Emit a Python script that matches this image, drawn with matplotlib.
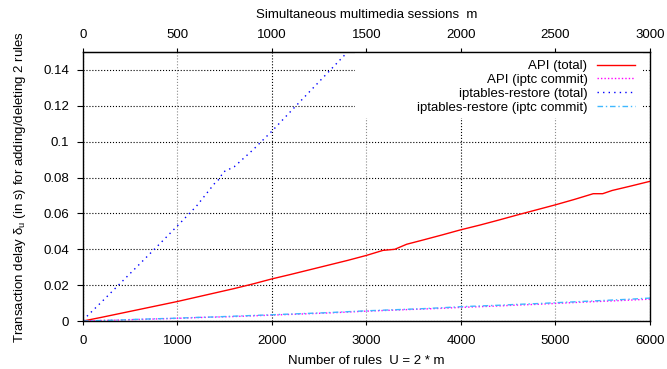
import matplotlib
matplotlib.use("Agg")
import matplotlib.pyplot as plt
import matplotlib.patches as mpatches
import numpy as np

plt.rcParams["font.family"] = ["Liberation Sans", "DejaVu Sans"]
plt.rcParams["font.size"] = 9.5
plt.rcParams["mathtext.default"] = "regular"

# number of rules U
rules = [0, 200, 400, 600, 800, 1000, 1200, 1400, 1600, 1800, 2000, 2200, 2400, 2600, 2800,
         3000, 3200, 3400, 3600, 3800, 4000, 4200, 4400, 4600, 4800, 5000, 5200, 5400, 5600, 5800, 6000]

api_rules = [0, 200, 400, 600, 800, 1000, 1200, 1400, 1600, 1800, 2000, 2200, 2400, 2600, 2800,
             3000, 3175, 3300, 3425, 3600, 3800, 4000, 4200, 4400, 4600, 4800, 5000, 5200, 5400,
             5500, 5600, 5800, 6000]
api_total = [0.0, 0.0021, 0.0043, 0.0065, 0.0087, 0.0109, 0.0133, 0.0157, 0.0181, 0.0207,
             0.0235, 0.0260, 0.0286, 0.0312, 0.0338, 0.0366, 0.0394, 0.0400, 0.0428, 0.0452,
             0.0480, 0.0509, 0.0535, 0.0563, 0.0592, 0.0620, 0.0648, 0.0678, 0.0710, 0.0710,
             0.0728, 0.0753, 0.0779]

api_commit = [0.0, 0.0003, 0.0006, 0.0009, 0.0012, 0.0015, 0.0019, 0.0022, 0.0025, 0.0029,
              0.0033, 0.0037, 0.0041, 0.0045, 0.0050, 0.0055, 0.0059, 0.0063, 0.0067, 0.0071,
              0.0076, 0.0080, 0.0084, 0.0089, 0.0093, 0.0098, 0.0103, 0.0108, 0.0112, 0.0117, 0.0122]

ipt_commit = [0.0, 0.0003, 0.0006, 0.0010, 0.0013, 0.0016, 0.0020, 0.0023, 0.0027, 0.0031,
              0.0035, 0.0039, 0.0043, 0.0047, 0.0052, 0.0057, 0.0061, 0.0065, 0.0069, 0.0074,
              0.0080, 0.0084, 0.0088, 0.0093, 0.0097, 0.0102, 0.0107, 0.0112, 0.0117, 0.0122, 0.0128]

ipt_rules = [0, 200, 400, 600, 800, 1000, 1200, 1400, 1450, 1480, 1600, 1800, 2000, 2200,
             2400, 2600, 2800, 2900]
ipt_total = [0.0005, 0.0108, 0.0213, 0.0318, 0.0424, 0.0531, 0.0640, 0.0772, 0.0795, 0.0830,
             0.0860, 0.0955, 0.1059, 0.1170, 0.1280, 0.1390, 0.1500, 0.1555]

fig = plt.figure(figsize=(6.67, 3.69), dpi=100)
ax = fig.add_axes([0.1244, 0.130, 0.850, 0.729])

ax.plot(api_rules, api_total, color="#ff0000", lw=1.0, label="API (total)")
ax.plot(rules, api_commit, color="#ff00ff", lw=1.0, ls=(0, (1, 1.5)), label="API (iptc commit)")
ax.plot(ipt_rules, ipt_total, color="#0000ff", lw=1.0, ls=(0, (1, 3)), label="iptables-restore (total)")
ax.plot(rules, ipt_commit, color="#3fb8ff", lw=1.0, ls=(0, (4, 2, 1, 2)),
        label="iptables-restore (iptc commit)")

ax.set_xlim(0, 6000)
ax.set_ylim(0, 0.15)
ax.set_xticks(np.arange(0, 6001, 1000))
ax.set_yticks([0, 0.02, 0.04, 0.06, 0.08, 0.1, 0.12, 0.14])
ax.set_yticklabels(["0", "0.02", "0.04", "0.06", "0.08", "0.1", "0.12", "0.14"])
ax.tick_params(axis="y", direction="out", length=4, pad=6)
ax.tick_params(axis="x", direction="out", length=3, pad=7)

ax.grid(True, color="k", ls=":", lw=0.8)
for i, gl in enumerate(ax.xaxis.get_gridlines()):
    if i % 2 == 1:
        gl.set_color("0.55")

# white area behind the key, hides the grid like gnuplot does
ax.add_patch(mpatches.Rectangle((0.48, 0.755), 0.508, 0.245, transform=ax.transAxes,
                                facecolor="white", edgecolor="none", zorder=1.8))

for s in ax.spines.values():
    s.set_linewidth(1.0)

ax.set_xlabel("Number of rules  U = 2 * m", labelpad=6)
ax.set_ylabel("Transaction delay δ$_{u}$ (in s) for adding/deleting 2 rules", labelpad=11)

top = ax.secondary_xaxis("top", functions=(lambda u: u / 2, lambda m: m * 2))
top.set_xticks(np.arange(0, 3001, 500))
top.tick_params(direction="out", length=3, pad=5)
top.set_xlabel("Simultaneous multimedia sessions  m", labelpad=8)

leg = ax.legend(loc="upper right", bbox_to_anchor=(1 - 15 / 567, 1 - 8 / 269), markerfirst=False,
                handlelength=2.9, handletextpad=0.7, labelspacing=0.12, borderpad=0,
                borderaxespad=0, frameon=False)
leg._legend_box.align = "right"

fig.savefig("out.png", dpi=100)
